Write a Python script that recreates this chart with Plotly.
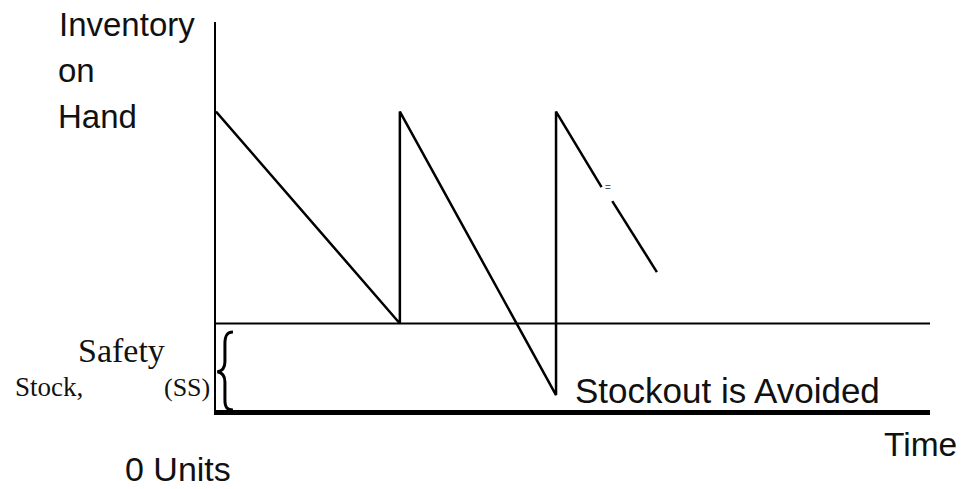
"""Safety stock sawtooth diagram with Plotly."""

import plotly.graph_objects as go

# inventory on hand over time (one broken segment after the last reorder)
time_main = [0, 10.3, 10.3, 19.05, 19.05, 21.6]
stock_main = [100, 29, 100, 5, 100, 74.7]
time_tail = [22.2, 24.7]
stock_tail = [70, 46.2]

SAFETY_STOCK = 29
X_MAX = 40
Y_MAX = 130

SANS = "Liberation Sans, Arial, sans-serif"
SERIF = "Liberation Serif, Times New Roman, serif"

fig = go.Figure()

fig.add_trace(go.Scatter(
    x=[0, X_MAX], y=[SAFETY_STOCK, SAFETY_STOCK],
    mode="lines", line=dict(color="#000000", width=2),
    hoverinfo="skip", showlegend=False,
))
fig.add_trace(go.Scatter(
    x=time_main, y=stock_main,
    mode="lines", line=dict(color="#000000", width=2.5),
    name="Inventory", showlegend=False,
))
fig.add_trace(go.Scatter(
    x=time_tail, y=stock_tail,
    mode="lines", line=dict(color="#000000", width=2.5),
    name="Inventory", showlegend=False,
))

# curly brace marking the safety stock band
h = SAFETY_STOCK * 0.9
brace = (
    f"M 0.95,{h} C 0.6,{h} 0.5,{h*0.95} 0.5,{h*0.85} "
    f"L 0.5,{h*0.62} C 0.5,{h*0.53} 0.3,{h*0.5} 0.08,{h*0.49} "
    f"C 0.3,{h*0.48} 0.5,{h*0.45} 0.5,{h*0.36} "
    f"L 0.5,{h*0.13} C 0.5,{h*0.04} 0.6,0 0.95,0"
)
fig.add_shape(type="path", path=brace, xref="x", yref="y",
              line=dict(color="#000000", width=3))


def label(text, x, y, size=33, family=SANS, color="#111111"):
    # positions given in axis units, placed on paper so they may sit in the margins
    fig.add_annotation(
        x=x / X_MAX, y=y / Y_MAX, xref="paper", yref="paper",
        text=text, showarrow=False,
        xanchor="left", yanchor="middle",
        font=dict(family=family, size=size, color=color),
    )


label("Inventory", -8.9, 129.0)
label("on", -8.95, 113.6)
label("Hand", -8.95, 98.2)
label("Stockout is Avoided", 20.0, 6.4, size=35)
label("Time", 37.3, -11.6, size=33.5)
label("0 Units", -5.2, -19.8, size=34)
label("Safety", -7.85, 19.8, size=34, family=SERIF)
label("Stock,", -11.4, 7.6, size=27, family=SERIF)
label("(SS)", -3.05, 7.6, size=26, family=SERIF)
label("=", 21.7, 74.4, size=10, color="#555555")

fig.update_layout(
    width=963, height=489, autosize=False,
    margin=dict(l=216, r=33, t=22, b=79),
    paper_bgcolor="#ffffff", plot_bgcolor="#ffffff",
    showlegend=False,
)
fig.update_xaxes(range=[0, X_MAX], showgrid=False, zeroline=False,
                 showticklabels=False, ticks="", showline=True,
                 linecolor="#000000", linewidth=5)
fig.update_yaxes(range=[0, Y_MAX], showgrid=False, zeroline=False,
                 showticklabels=False, ticks="", showline=True,
                 linecolor="#000000", linewidth=2)

# drop the browser's default body margin so the figure fills the window
fig.write_html(
    "out.html",
    config={"displayModeBar": False},
    post_script="document.body.style.margin='0';document.body.style.overflow='hidden';",
)
